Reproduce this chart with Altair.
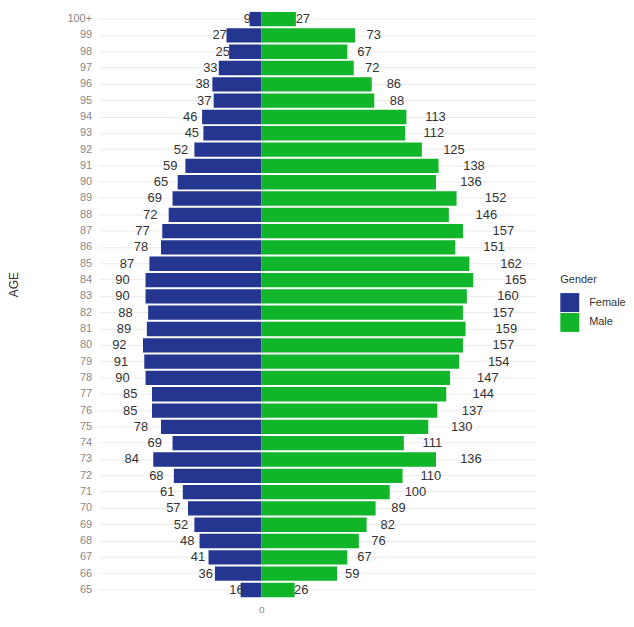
import altair as alt
import pandas as pd

ages = [str(a) for a in range(65, 100)] + ["100+"]
female = [16, 36, 41, 48, 52, 57, 61, 68, 84, 69, 78, 85, 85, 90, 91, 92, 89, 88,
          90, 90, 87, 78, 77, 72, 69, 65, 59, 52, 45, 46, 37, 38, 33, 25, 27, 9]
male = [26, 59, 67, 76, 82, 89, 100, 110, 136, 111, 130, 137, 144, 147, 154, 157, 159, 157,
        160, 165, 162, 151, 157, 146, 152, 136, 138, 125, 112, 113, 88, 86, 72, 67, 73, 27]
genders = ["Female", "Male"]
colors = ["#24368F", "#10B52A"]

rows = []
for a, f, m in zip(ages, female, male):
    rows.append({"AGE": a, "Gender": "Female", "value": -f, "label": str(f), "lx": -f * 1.2})
    rows.append({"AGE": a, "Gender": "Male", "value": m, "label": str(m), "lx": m * 1.2})
df = pd.DataFrame(rows)

font = "Liberation Sans"
xscale = alt.Scale(domain=[-125.8, 213.4], nice=False, zero=False)
yscale = alt.Scale(domain=ages[::-1], paddingInner=0.12, paddingOuter=0.15)

base = alt.Chart(df)

bars = base.mark_bar().encode(
    y=alt.Y("AGE:N", scale=yscale, sort=None,
            axis=alt.Axis(title="AGE", grid=True, gridColor="#EBEBEB", gridWidth=1,
                          bandPosition=0.5, ticks=False, domain=False,
                          labelPadding=8, labelFontSize=11, labelColor="#888888", labelFont=font,
                          titleFont=font, titleFontSize=12, titleFontWeight="normal",
                          titleColor="#333333", titleX=-79, titleY=276)),
    x=alt.X("value:Q", scale=xscale, stack=None,
            axis=alt.Axis(title=None, values=[0], grid=False, ticks=False, domain=False,
                          labelPadding=5, labelFontSize=10, labelColor="#888888", labelFont=font)),
    color=alt.Color("Gender:N", scale=alt.Scale(domain=genders, range=colors),
                    legend=alt.Legend(orient="none", legendX=463, legendY=266,
                                      title="Gender", titleFont=font, titleFontSize=11,
                                      titleFontWeight="normal", titleColor="#333333",
                                      titlePadding=8, labelFont=font, labelFontSize=11,
                                      labelColor="#333333", labelOffset=10,
                                      symbolType="square", symbolSize=361,
                                      symbolStrokeWidth=0, rowPadding=1)),
)

texts = base.mark_text(font=font, fontSize=13, color="#333333",
                       align="center", baseline="middle").encode(
    y=alt.Y("AGE:N", scale=yscale, sort=None),
    x=alt.X("lx:Q", scale=xscale),
    text="label:N",
)

chart = alt.layer(bars, texts).properties(
    width=438, height=593,
    padding={"left": 0, "top": 0, "right": 0, "bottom": 0},
).configure_view(stroke=None)

chart.save("out.html", embed_options={"renderer": "svg", "actions": False})
